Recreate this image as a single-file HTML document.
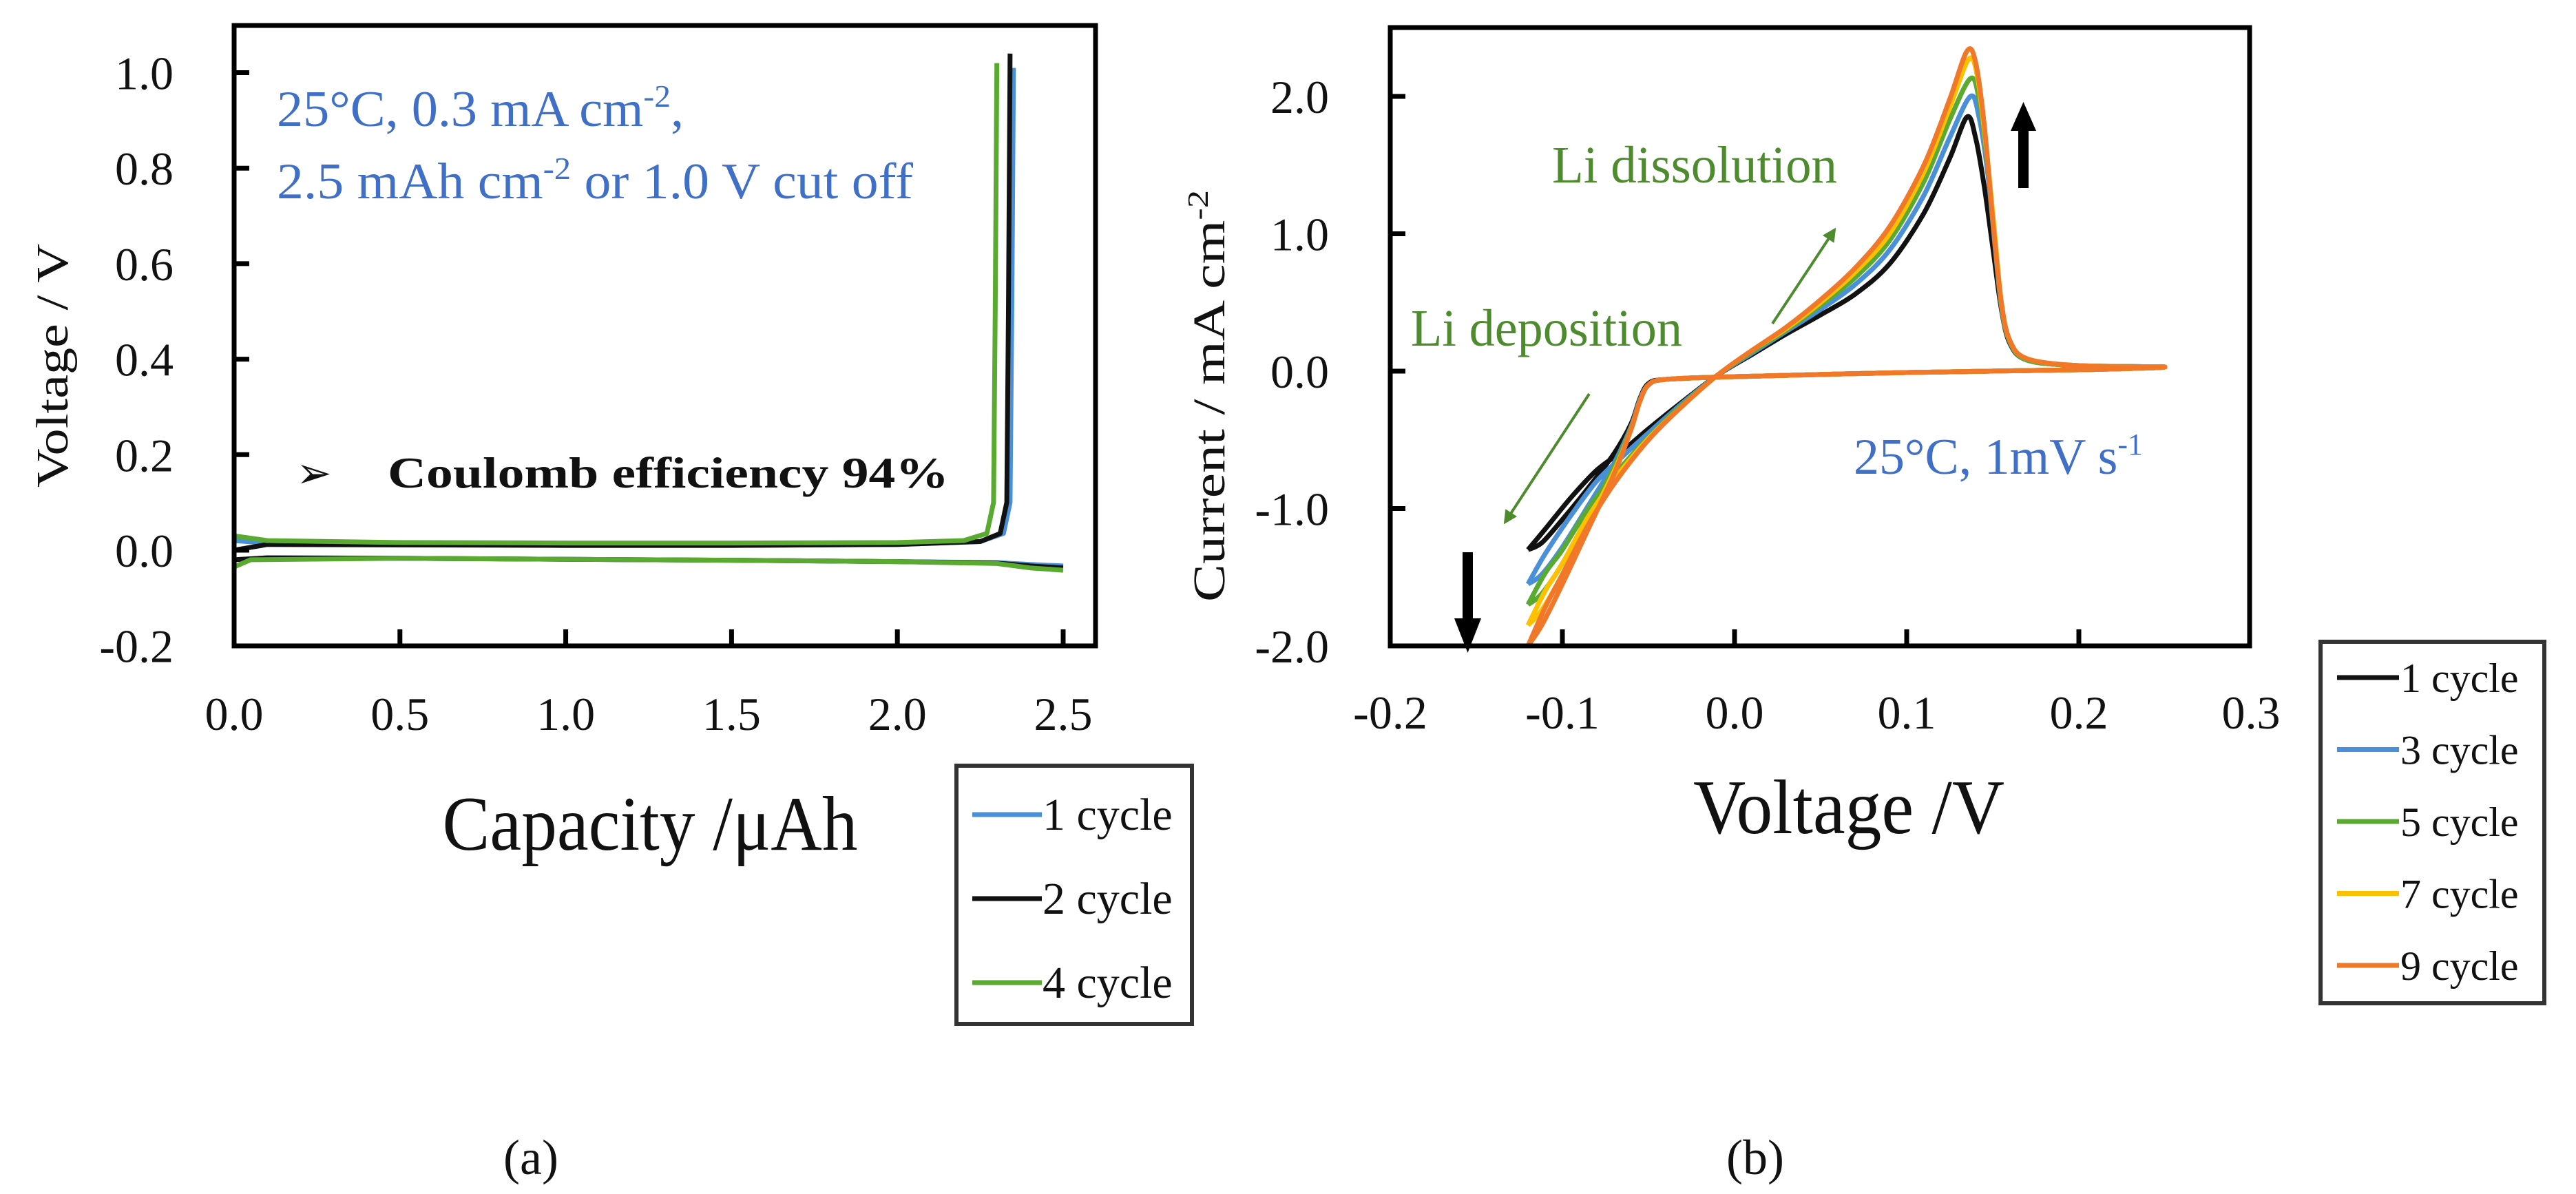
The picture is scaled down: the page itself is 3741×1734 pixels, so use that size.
<!DOCTYPE html>
<html><head><meta charset="utf-8"><style>
html,body{margin:0;padding:0;background:#fff;}
svg{display:block;}
text{font-family:"Liberation Serif",serif;}
</style></head><body>
<svg id="fig" width="3741" height="1734" viewBox="0 0 3741 1734" xmlns="http://www.w3.org/2000/svg">
<defs>
<marker id="garr" viewBox="0 0 10 10" refX="8" refY="5" markerWidth="5" markerHeight="5" orient="auto-start-reverse"><path d="M0,0 L10,5 L0,10 z" fill="#4e8a2e"/></marker>
</defs>
<g id="pa"></g>
<g id="pb"></g>
</svg>
<script>
// ---------- Panel (a) data ----------
const aXTicks = [0.0, 0.5, 1.0, 1.5, 2.0, 2.5];
const aXTickLabels = ["0.0","0.5","1.0","1.5","2.0","2.5"];
const aYTicks = [-0.2, 0.0, 0.2, 0.4, 0.6, 0.8, 1.0];
const aYTickLabels = ["-0.2","0.0","0.2","0.4","0.6","0.8","1.0"];
const aSeriesNames = ["1 cycle","2 cycle","4 cycle"];
const aSeriesColors = ["#4a90d9","#111111","#5aaa32"];
const aCharge1 = [[0,0.02],[0.1,0.015],[0.5,0.012],[1.0,0.01],[1.5,0.01],[2.0,0.012],[2.25,0.018],[2.32,0.035],[2.34,0.1],[2.345,0.5],[2.35,1.01]];
const aDis1 = [[0,-0.02],[0.1,-0.016],[0.5,-0.017],[1.0,-0.019],[1.5,-0.021],[2.0,-0.024],[2.3,-0.026],[2.4,-0.03],[2.5,-0.033]];
const aCharge2 = [[0,0.0],[0.1,0.012],[0.5,0.011],[1.0,0.01],[1.5,0.01],[2.0,0.012],[2.25,0.018],[2.31,0.035],[2.33,0.1],[2.335,0.5],[2.34,1.04]];
const aDis2 = [[0,-0.02],[0.1,-0.016],[0.5,-0.017],[1.0,-0.019],[1.5,-0.021],[2.0,-0.024],[2.3,-0.027],[2.4,-0.033],[2.5,-0.037]];
const aCharge4 = [[0,0.27],[0,0.03],[0.1,0.02],[0.5,0.016],[1.0,0.015],[1.5,0.015],[2.0,0.016],[2.2,0.02],[2.27,0.035],[2.29,0.1],[2.295,0.5],[2.3,1.02]];
const aDis4 = [[0,-0.035],[0.05,-0.02],[0.5,-0.017],[1.0,-0.019],[1.5,-0.021],[2.0,-0.024],[2.3,-0.028],[2.4,-0.037],[2.5,-0.042]];

// ---------- Panel (b) data ----------
const bXTicks = [-0.2,-0.1,0.0,0.1,0.2,0.3];
const bXTickLabels = ["-0.2","-0.1","0.0","0.1","0.2","0.3"];
const bYTicks = [-2.0,-1.0,0.0,1.0,2.0];
const bYTickLabels = ["-2.0","-1.0","0.0","1.0","2.0"];
const bSeriesNames = ["1 cycle","3 cycle","5 cycle","7 cycle","9 cycle"];
const bSeriesColors = ["#111111","#4a90d9","#5aaa32","#ffc000","#f07828"];
const bCycle1 = [[-0.12,-1.30],[-0.11,-1.15],[-0.095,-0.92],[-0.08,-0.72],[-0.065,-0.58],[-0.05,-0.42],[-0.03,-0.22],[-0.01,-0.03],[0.01,0.12],[0.03,0.27],[0.05,0.41],[0.07,0.56],[0.09,0.78],[0.11,1.15],[0.125,1.55],[0.135,1.85],[0.14,1.70],[0.145,1.35],[0.15,0.90],[0.155,0.45],[0.16,0.2],[0.17,0.08],[0.2,0.04],[0.25,0.03],[0.2,0.01],[0.1,-0.01],[0.0,-0.04],[-0.04,-0.06],[-0.05,-0.09],[-0.055,-0.2],[-0.06,-0.38],[-0.07,-0.6],[-0.085,-0.85],[-0.1,-1.08],[-0.112,-1.25],[-0.12,-1.30]];
const bCycle3 = [[-0.12,-1.55],[-0.11,-1.33],[-0.095,-1.05],[-0.08,-0.8],[-0.065,-0.62],[-0.05,-0.45],[-0.03,-0.23],[-0.01,-0.03],[0.01,0.13],[0.03,0.29],[0.05,0.45],[0.07,0.63],[0.09,0.88],[0.11,1.28],[0.125,1.7],[0.137,2.0],[0.142,1.85],[0.147,1.45],[0.151,0.95],[0.155,0.47],[0.16,0.21],[0.17,0.08],[0.2,0.04],[0.25,0.03],[0.2,0.01],[0.1,-0.01],[0.0,-0.04],[-0.04,-0.06],[-0.05,-0.1],[-0.055,-0.21],[-0.06,-0.4],[-0.07,-0.67],[-0.085,-0.98],[-0.1,-1.28],[-0.112,-1.48],[-0.12,-1.55]];
const bCycle5 = [[-0.12,-1.70],[-0.11,-1.47],[-0.1,-1.3],[-0.085,-1.0],[-0.07,-0.76],[-0.05,-0.48],[-0.03,-0.24],[-0.01,-0.03],[0.01,0.14],[0.03,0.3],[0.05,0.48],[0.07,0.68],[0.09,0.95],[0.11,1.38],[0.125,1.83],[0.137,2.13],[0.142,1.98],[0.147,1.5],[0.151,0.98],[0.155,0.48],[0.16,0.21],[0.17,0.08],[0.2,0.04],[0.25,0.03],[0.2,0.01],[0.1,-0.01],[0.0,-0.04],[-0.04,-0.06],[-0.05,-0.1],[-0.055,-0.22],[-0.06,-0.41],[-0.07,-0.7],[-0.085,-1.05],[-0.1,-1.4],[-0.112,-1.62],[-0.12,-1.70]];
const bCycle7 = [[-0.12,-1.85],[-0.11,-1.6],[-0.1,-1.4],[-0.085,-1.06],[-0.07,-0.79],[-0.05,-0.49],[-0.03,-0.25],[-0.01,-0.03],[0.01,0.15],[0.03,0.31],[0.05,0.5],[0.07,0.72],[0.09,1.0],[0.11,1.45],[0.125,1.92],[0.136,2.27],[0.141,2.15],[0.146,1.65],[0.151,1.02],[0.155,0.5],[0.16,0.22],[0.17,0.09],[0.2,0.04],[0.25,0.03],[0.2,0.01],[0.1,-0.01],[0.0,-0.04],[-0.04,-0.06],[-0.05,-0.1],[-0.055,-0.22],[-0.06,-0.42],[-0.07,-0.73],[-0.085,-1.1],[-0.1,-1.48],[-0.112,-1.74],[-0.12,-1.85]];
const bCycle9 = [[-0.12,-2.0],[-0.11,-1.72],[-0.1,-1.48],[-0.085,-1.12],[-0.07,-0.82],[-0.05,-0.5],[-0.03,-0.25],[-0.01,-0.03],[0.01,0.15],[0.03,0.32],[0.05,0.52],[0.07,0.75],[0.09,1.05],[0.11,1.5],[0.125,1.98],[0.135,2.33],[0.14,2.25],[0.145,1.8],[0.15,1.1],[0.155,0.5],[0.16,0.22],[0.17,0.09],[0.2,0.04],[0.25,0.03],[0.2,0.01],[0.1,-0.01],[0.0,-0.04],[-0.04,-0.06],[-0.05,-0.1],[-0.055,-0.22],[-0.06,-0.42],[-0.07,-0.75],[-0.085,-1.15],[-0.1,-1.55],[-0.112,-1.85],[-0.12,-2.0]];

const NS = "http://www.w3.org/2000/svg";
function mk(parent, tag, attrs, txt){
  const e = document.createElementNS(NS, tag);
  for (const k in attrs) e.setAttribute(k, attrs[k]);
  if (txt !== undefined) e.textContent = txt;
  parent.appendChild(e);
  return e;
}
function pathD(pts, sx, sy){
  return pts.map((p,i)=>(i?"L":"M")+sx(p[0]).toFixed(1)+","+sy(p[1]).toFixed(1)).join(" ");
}
function smoothD(pts, sx, sy){
  const P = pts.map(p=>[sx(p[0]), sy(p[1])]);
  let d = "M"+P[0][0].toFixed(1)+","+P[0][1].toFixed(1);
  for (let i=0;i<P.length-1;i++){
    const p0=P[Math.max(0,i-1)], p1=P[i], p2=P[i+1], p3=P[Math.min(P.length-1,i+2)];
    const t=0.16;
    const c1=[p1[0]+(p2[0]-p0[0])*t, p1[1]+(p2[1]-p0[1])*t];
    const c2=[p2[0]-(p3[0]-p1[0])*t, p2[1]-(p3[1]-p1[1])*t];
    d += " C"+c1[0].toFixed(1)+","+c1[1].toFixed(1)+" "+c2[0].toFixed(1)+","+c2[1].toFixed(1)+" "+p2[0].toFixed(1)+","+p2[1].toFixed(1);
  }
  return d;
}

// ================= PANEL A =================
const pa = document.getElementById('pa');
const aL=340, aR=1591, aT=37, aB=938;
const ax = v => 340 + v*481.6;
const ay = v => 799 - v*693.5;

aSeriesColors.forEach((c,i)=>{
  const ch=[aCharge1,aCharge2,aCharge4][i], ds=[aDis1,aDis2,aDis4][i];
  let e = mk(pa,'path',{d:pathD(ch,ax,ay),fill:'none',stroke:c,'stroke-width':7,'stroke-linejoin':'round'});
  
  
  e = mk(pa,'path',{d:pathD(ds,ax,ay),fill:'none',stroke:c,'stroke-width':7,'stroke-linejoin':'round'});
  
  
});
let fr = mk(pa,'rect',{x:aL,y:aT,width:aR-aL,height:aB-aT,fill:'none',stroke:'#000','stroke-width':7});


aXTicks.forEach((v,i)=>{
  const x=ax(v);
  if(i>0){ const t=mk(pa,'line',{x1:x,x2:x,y1:aB,y2:aB-24,stroke:'#000','stroke-width':7});
      }
  const l=mk(pa,'text',{x:x,y:1060,'font-size':68,'text-anchor':'middle',fill:'#111'},aXTickLabels[i]);
  
  
});
aYTicks.forEach((v,i)=>{
  const y=ay(v);
  if(i>0){ const t=mk(pa,'line',{x1:aL,x2:aL+22,y1:y,y2:y,stroke:'#000','stroke-width':7});
      }
  const l=mk(pa,'text',{x:252,y:y+24,'font-size':68,'text-anchor':'end',fill:'#111'},aYTickLabels[i]);
  
  
});
const lga = mk(pa,'g',{});


mk(lga,'rect',{x:1389,y:1112,width:342,height:375,fill:'#fff',stroke:'#333','stroke-width':6});
aSeriesNames.forEach((n,i)=>{
  const y=1183+i*122;
  const g=mk(lga,'g',{});
  
  
  mk(g,'line',{x1:1412,x2:1513,y1:y,y2:y,stroke:aSeriesColors[i],'stroke-width':7});
  mk(g,'text',{x:1514,y:y+22,'font-size':66,fill:'#111'},n);
});

// ================= PANEL B =================
const pb = document.getElementById('pb');
const bL=2019, bR=3267, bT=40, bB=938;
const bx = v => 2519 + v*2500;
const by = v => 539 - v*199.5;
[bCycle1,bCycle3,bCycle5,bCycle7,bCycle9].forEach((s,i)=>{
  const e=mk(pb,'path',{d:smoothD(s,bx,by),fill:'none',stroke:bSeriesColors[i],'stroke-width':7,'stroke-linejoin':'round'});
  
  
});
fr = mk(pb,'rect',{x:bL,y:bT,width:bR-bL,height:bB-bT,fill:'none',stroke:'#000','stroke-width':7});


bXTicks.forEach((v,i)=>{
  const x=bx(v);
  if(i>0&&i<bXTicks.length-1){ const t=mk(pb,'line',{x1:x,x2:x,y1:bB,y2:bB-24,stroke:'#000','stroke-width':7});
      }
  const l=mk(pb,'text',{x:x,y:1058,'font-size':68,'text-anchor':'middle',fill:'#111'},bXTickLabels[i]);
  
  
});
bYTicks.forEach((v,i)=>{
  const y=by(v);
  if(i>0){ const t=mk(pb,'line',{x1:bL,x2:bL+22,y1:y,y2:y,stroke:'#000','stroke-width':7});
      }
  const l=mk(pb,'text',{x:1930,y:y+24,'font-size':68,'text-anchor':'end',fill:'#111'},bYTickLabels[i]);
  
  
});
const lgb = mk(pb,'g',{});


mk(lgb,'rect',{x:3370,y:932,width:325,height:525,fill:'#fff',stroke:'#333','stroke-width':6});
bSeriesNames.forEach((n,i)=>{
  const y=984+i*104.5;
  const g=mk(lgb,'g',{});
  
  
  mk(g,'line',{x1:3394,x2:3484,y1:y,y2:y,stroke:bSeriesColors[i],'stroke-width':7});
  mk(g,'text',{x:3486,y:y+21,'font-size':60,fill:'#111'},n);
});
</script>
<script>
const F=document.getElementById('fig');
F.insertAdjacentHTML('beforeend', `
<text x="0" y="0" font-size="66" fill="#111" text-anchor="middle" transform="translate(98,531) rotate(-90)" textLength="354" lengthAdjust="spacingAndGlyphs">Voltage  / V</text>
<text x="944" y="1234" font-size="112" fill="#111" text-anchor="middle" textLength="603" lengthAdjust="spacingAndGlyphs">Capacity /μAh</text>
<text x="402" y="183" font-size="74" fill="#3f6fc6" textLength="591" lengthAdjust="spacingAndGlyphs">25°C, 0.3 mA cm<tspan dy="-28" font-size="46">-2</tspan><tspan dy="28">,</tspan></text>
<text x="402" y="288" font-size="74" fill="#3f6fc6" textLength="924" lengthAdjust="spacingAndGlyphs">2.5 mAh cm<tspan dy="-28" font-size="46">-2</tspan><tspan dy="28"> or 1.0 V cut off</tspan></text>
<text x="430" y="708" font-size="62" fill="#111">➢</text>
<text x="563" y="708" font-size="64" font-weight="bold" fill="#111" textLength="815" lengthAdjust="spacingAndGlyphs">Coulomb efficiency 94%</text>
<text x="771" y="1705" font-size="72" fill="#111" text-anchor="middle">(a)</text>
<text x="0" y="0" font-size="66" fill="#111" text-anchor="middle" transform="translate(1778,575) rotate(-90)" textLength="598" lengthAdjust="spacingAndGlyphs">Current  / mA cm<tspan dy="-24" font-size="42">-2</tspan></text>
<text x="2685" y="1210" font-size="112" fill="#111" text-anchor="middle" textLength="452" lengthAdjust="spacingAndGlyphs">Voltage /V</text>
<text x="2254" y="265" font-size="76" fill="#4e8a2e" textLength="414" lengthAdjust="spacingAndGlyphs">Li dissolution</text>
<text x="2049" y="502" font-size="76" fill="#4e8a2e" textLength="394" lengthAdjust="spacingAndGlyphs">Li deposition</text>
<text x="2692" y="688" font-size="74" fill="#3f6fc6" textLength="420" lengthAdjust="spacingAndGlyphs">25°C, 1mV s<tspan dy="-28" font-size="44">-1</tspan></text>
<line x1="2574" y1="470" x2="2664" y2="334" stroke="#4e8a2e" stroke-width="4" marker-end="url(#garr)"/>
<line x1="2308" y1="572" x2="2186" y2="758" stroke="#4e8a2e" stroke-width="4" marker-end="url(#garr)"/>
<g><rect x="2931" y="185" width="15" height="88" fill="#000"/><polygon points="2920,190 2938.5,148 2957,190" fill="#000"/></g>
<g><rect x="2124" y="802" width="15" height="100" fill="#000"/><polygon points="2112,898 2131.5,948 2151,898" fill="#000"/></g>
<text x="2549" y="1705" font-size="72" fill="#111" text-anchor="middle">(b)</text>
`);
</script>
</body></html>
